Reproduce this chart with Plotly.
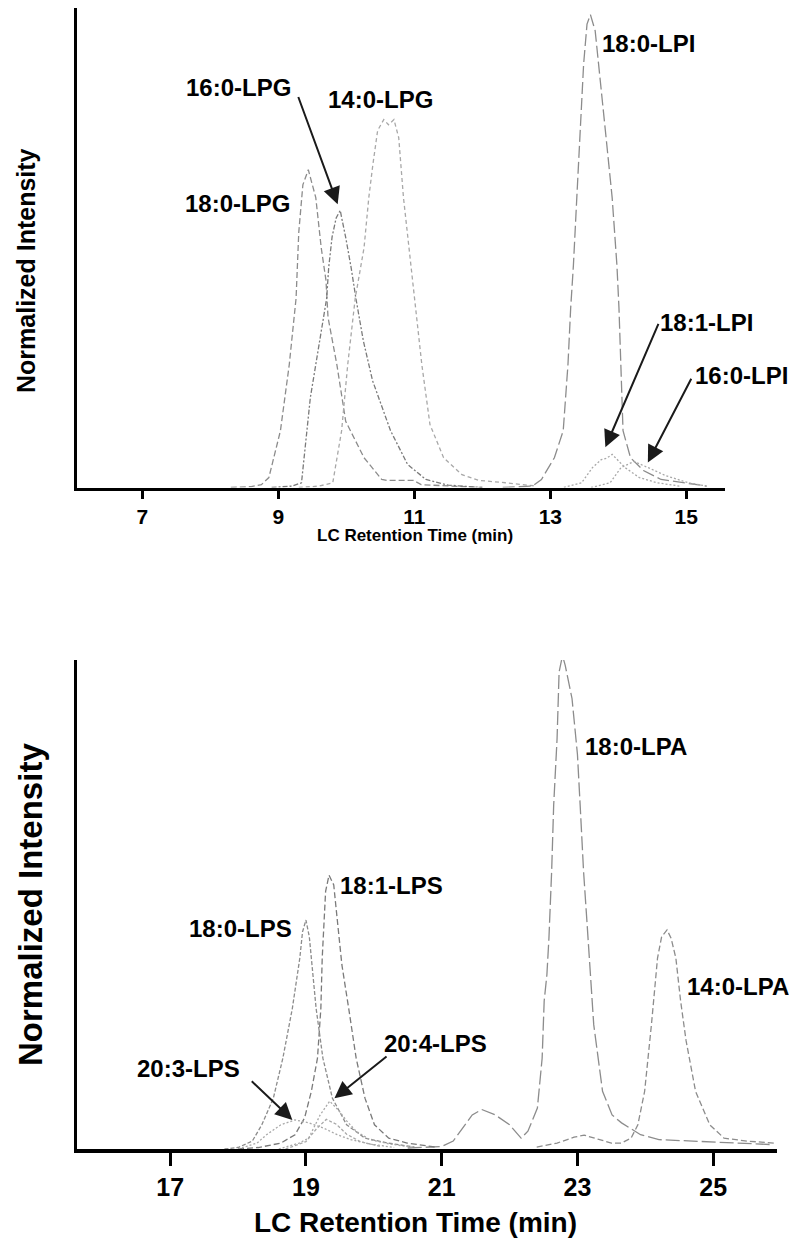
import plotly.graph_objects as go

# ---------------- top panel data (LC retention time in min, normalized intensity) ----------------
lpg180_x = [8.3, 8.6, 8.75, 8.86, 9.03, 9.16, 9.26, 9.30, 9.36, 9.44, 9.55, 9.63, 9.70, 9.73, 9.86, 9.99, 10.26, 10.52, 10.60, 10.99, 11.1, 11.5, 12.0]
lpg180_y = [0.0, 0.002, 0.006, 0.021, 0.12, 0.26, 0.40, 0.54, 0.64, 0.672, 0.613, 0.507, 0.438, 0.36, 0.26, 0.14, 0.063, 0.017, 0.015, 0.015, 0.006, 0.003, 0.0]

lpg160_x = [8.9, 9.2, 9.34, 9.47, 9.63, 9.71, 9.74, 9.79, 9.85, 9.91, 9.93, 9.99, 10.07, 10.14, 10.25, 10.385, 10.65, 10.90, 11.17, 11.5, 12.0]
lpg160_y = [0.0, 0.003, 0.01, 0.19, 0.33, 0.40, 0.465, 0.53, 0.57, 0.586, 0.571, 0.529, 0.465, 0.40, 0.31, 0.226, 0.12, 0.049, 0.017, 0.005, 0.0]

lpg140_x = [9.3, 9.6, 9.80, 9.93, 10.02, 10.13, 10.26, 10.33, 10.39, 10.46, 10.55, 10.62, 10.70, 10.77, 10.84, 10.95, 11.04, 11.11, 11.23, 11.43, 11.70, 11.95, 12.34, 12.8]
lpg140_y = [0.0, 0.003, 0.01, 0.12, 0.26, 0.40, 0.507, 0.613, 0.683, 0.755, 0.778, 0.767, 0.778, 0.74, 0.613, 0.47, 0.36, 0.26, 0.133, 0.063, 0.027, 0.015, 0.01, 0.003]

lpi180_x = [12.3, 12.74, 12.87, 13.06, 13.19, 13.26, 13.30, 13.34, 13.39, 13.44, 13.49, 13.54, 13.59, 13.66, 13.74, 13.81, 13.91, 13.98, 14.01, 14.04, 14.07, 14.18, 14.37, 14.63, 14.95, 15.3]
lpi180_y = [0.0, 0.003, 0.017, 0.063, 0.12, 0.26, 0.38, 0.47, 0.613, 0.755, 0.895, 0.98, 1.0, 0.966, 0.86, 0.755, 0.613, 0.47, 0.38, 0.26, 0.12, 0.063, 0.036, 0.017, 0.01, 0.003]

lpi181_x = [13.2, 13.46, 13.62, 13.75, 13.83, 13.91, 14.10, 14.31, 14.57, 14.9]
lpi181_y = [0.0, 0.01, 0.042, 0.059, 0.062, 0.07, 0.042, 0.021, 0.01, 0.003]

lpi160_x = [13.6, 13.88, 14.04, 14.23, 14.44, 14.70, 15.03, 15.3]
lpi160_y = [0.0, 0.01, 0.042, 0.055, 0.042, 0.025, 0.01, 0.003]

top_ticks = [7, 9, 11, 13, 15]

# ---------------- bottom panel data ----------------
lpa180_x = [20.5, 21.0, 21.17, 21.31, 21.45, 21.59, 21.79, 22.0, 22.17, 22.27, 22.41, 22.48, 22.51, 22.55, 22.58, 22.62, 22.65, 22.70, 22.73, 22.78, 22.82, 22.92, 23.0, 23.04, 23.09, 23.14, 23.19, 23.24, 23.37, 23.51, 23.65, 23.76, 23.93, 24.2, 24.68, 25.37, 25.85]
lpa180_y = [0.002, 0.005, 0.016, 0.043, 0.069, 0.08, 0.069, 0.049, 0.022, 0.036, 0.083, 0.184, 0.30, 0.353, 0.427, 0.563, 0.697, 0.832, 0.967, 1.0, 0.98, 0.913, 0.80, 0.697, 0.563, 0.461, 0.353, 0.252, 0.117, 0.069, 0.053, 0.043, 0.029, 0.019, 0.016, 0.012, 0.009]

lpa140_x = [22.4, 22.7, 22.95, 23.1, 23.3, 23.5, 23.65, 23.79, 23.89, 23.99, 24.09, 24.18, 24.24, 24.32, 24.38, 24.45, 24.52, 24.6, 24.74, 24.95, 25.16, 25.5, 25.9]
lpa140_y = [0.004, 0.012, 0.024, 0.028, 0.02, 0.012, 0.012, 0.022, 0.049, 0.117, 0.252, 0.387, 0.43, 0.444, 0.427, 0.387, 0.30, 0.22, 0.117, 0.049, 0.022, 0.016, 0.012]

lps181_x = [18.0, 18.3, 18.63, 18.84, 18.98, 19.08, 19.17, 19.22, 19.24, 19.27, 19.29, 19.34, 19.41, 19.44, 19.49, 19.53, 19.63, 19.74, 19.87, 20.01, 20.22, 20.49, 20.9]
lps181_y = [0.0, 0.003, 0.012, 0.029, 0.063, 0.117, 0.184, 0.285, 0.387, 0.461, 0.522, 0.555, 0.535, 0.494, 0.427, 0.373, 0.285, 0.184, 0.103, 0.049, 0.022, 0.012, 0.004]

lps180_x = [17.8, 18.0, 18.21, 18.35, 18.52, 18.66, 18.80, 18.91, 18.95, 19.0, 19.05, 19.08, 19.15, 19.25, 19.39, 19.60, 19.87, 20.21, 20.6]
lps180_y = [0.0, 0.003, 0.016, 0.049, 0.103, 0.184, 0.285, 0.387, 0.44, 0.464, 0.43, 0.387, 0.285, 0.184, 0.103, 0.049, 0.022, 0.012, 0.004]

lps204_x = [18.6, 18.9, 19.04, 19.14, 19.21, 19.35, 19.49, 19.6, 19.74, 19.94, 20.24, 20.6]
lps204_y = [0.0, 0.012, 0.022, 0.049, 0.069, 0.097, 0.077, 0.057, 0.036, 0.019, 0.01, 0.003]

lps203_x = [18.0, 18.28, 18.42, 18.63, 18.84, 19.04, 19.25, 19.46, 19.66, 19.95, 20.3]
lps203_y = [0.0, 0.012, 0.029, 0.049, 0.059, 0.053, 0.043, 0.029, 0.019, 0.01, 0.003]

lps_other_x = [18.7, 19.0, 19.15, 19.3, 19.45, 19.6, 19.8, 20.1]
lps_other_y = [0.0, 0.015, 0.04, 0.06, 0.05, 0.03, 0.015, 0.005]

bottom_ticks = [17, 19, 21, 23, 25]

# ---------------- layout helpers ----------------
PAGE_W, PAGE_H = 797, 1243
OFF = 8                      # default page margin of the html body
W, H = PAGE_W - OFF, PAGE_H - OFF


def pxx(X):
    return (X - OFF) / W


def pxy(Y):
    return 1 - (Y - OFF) / H


GREY = "#8c8c8c"
LIGHT = "#a8a8a8"

fig = go.Figure()


def add(x, y, dash, color=GREY, width=1.3, xa="x", ya="y"):
    fig.add_trace(go.Scatter(x=x, y=y, mode="lines", xaxis=xa, yaxis=ya,
                             line=dict(color=color, width=width, dash=dash),
                             showlegend=False, hoverinfo="skip"))


# top panel
add(lpg180_x, lpg180_y, "6px,3px")
add(lpg160_x, lpg160_y, "5px,2px,2px,2px", color="#7a7a7a")
add(lpg140_x, lpg140_y, "4px,3px", color=LIGHT)
add(lpi180_x, lpi180_y, "12px,4px")
add(lpi181_x, lpi181_y, "2px,2px", color=LIGHT)
add(lpi160_x, lpi160_y, "2px,2px", color=LIGHT)
# bottom panel
add(lpa180_x, lpa180_y, "14px,4px", xa="x2", ya="y2")
add(lpa140_x, lpa140_y, "6px,3px", xa="x2", ya="y2")
add(lps181_x, lps181_y, "6px,3px", color="#7a7a7a", xa="x2", ya="y2")
add(lps180_x, lps180_y, "4px,2px", xa="x2", ya="y2")
add(lps204_x, lps204_y, "2px,2px", color=LIGHT, xa="x2", ya="y2")
add(lps203_x, lps203_y, "2px,2px", color=LIGHT, xa="x2", ya="y2")
add(lps_other_x, lps_other_y, "3px,2px", color=LIGHT, xa="x2", ya="y2")

FONT = "Liberation Sans, Arial, Helvetica, sans-serif"

axis_common = dict(showline=True, linecolor="black", showgrid=False, zeroline=False, mirror=False)

fig.update_layout(
    width=W, height=H, margin=dict(l=0, r=0, t=0, b=0),
    paper_bgcolor="white", plot_bgcolor="white",
    xaxis=dict(domain=[pxx(76.5), pxx(725)], range=[6.03, 15.57], anchor="y", linewidth=3,
               tickvals=top_ticks, ticks="outside", ticklen=8, tickwidth=3, tickcolor="black",
               tickfont=dict(family=FONT, size=21, color="black", weight="bold"), **axis_common),
    yaxis=dict(domain=[pxy(487.5), 1.0], range=[0, 1.014], anchor="x", linewidth=3,
               showticklabels=False, ticks="", **axis_common),
    xaxis2=dict(domain=[pxx(76.5), pxx(777)], range=[15.62, 25.94], anchor="y2", linewidth=4,
                tickvals=bottom_ticks, ticks="outside", ticklen=13, tickwidth=3, tickcolor="black",
                tickfont=dict(family=FONT, size=25, color="black", weight="bold"), **axis_common),
    yaxis2=dict(domain=[pxy(1149), pxy(660)], range=[0, 0.991], anchor="x2", linewidth=3,
                showticklabels=False, ticks="", **axis_common),
)

LABEL = dict(family=FONT, size=24, color="black", weight="bold")


def label(text, X, Y):
    fig.add_annotation(text=text, x=pxx(X), y=pxy(Y), xref="paper", yref="paper", showarrow=False,
                       font=LABEL, xanchor="center", yanchor="middle")


def arrow(xt, yt, xh, yh, xref, yref):
    fig.add_annotation(text="", x=xh, y=yh, ax=xt, ay=yt, xref=xref, yref=yref,
                       axref=xref, ayref=yref, showarrow=True, arrowhead=2,
                       arrowsize=1.7, arrowwidth=2, arrowcolor="#1a1a1a")


# top labels
label("16:0-LPG", 238.5, 88)
label("14:0-LPG", 380, 100)
label("18:0-LPG", 237, 203)
label("18:0-LPI", 648.5, 43)
label("18:1-LPI", 706, 322)
label("16:0-LPI", 741, 375)
arrow(9.285, 0.829, 9.872, 0.599, "x", "y")
arrow(14.60, 0.349, 13.81, 0.085, "x", "y")
arrow(15.085, 0.233, 14.435, 0.053, "x", "y")

# bottom labels
label("18:1-LPS", 391.7, 885)
label("18:0-LPS", 240.5, 928)
label("18:0-LPA", 635.5, 746)
label("14:0-LPA", 737.5, 987)
label("20:4-LPS", 435.5, 1043)
label("20:3-LPS", 188.5, 1068)
arrow(18.18, 0.14, 18.80, 0.059, "x2", "y2")
arrow(20.21, 0.19, 19.42, 0.103, "x2", "y2")

# axis titles
TITLE = dict(family=FONT, color="black", weight="bold")
fig.add_annotation(text="LC Retention Time (min)", x=pxx(415), y=pxy(535), xref="paper", yref="paper",
                   showarrow=False, font=dict(size=17, **TITLE), xanchor="center", yanchor="middle")
fig.add_annotation(text="LC Retention Time (min)", x=pxx(415), y=pxy(1222), xref="paper", yref="paper",
                   showarrow=False, font=dict(size=28, **TITLE), xanchor="center", yanchor="middle")
fig.add_annotation(text="Normalized Intensity", x=pxx(26), y=pxy(271), xref="paper", yref="paper",
                   showarrow=False, textangle=-90, font=dict(size=25, **TITLE), xanchor="center", yanchor="middle")
fig.add_annotation(text="Normalized Intensity", x=pxx(30), y=pxy(905), xref="paper", yref="paper",
                   showarrow=False, textangle=-90, font=dict(size=33, **TITLE), xanchor="center", yanchor="middle")

fig.write_html("out.html")
